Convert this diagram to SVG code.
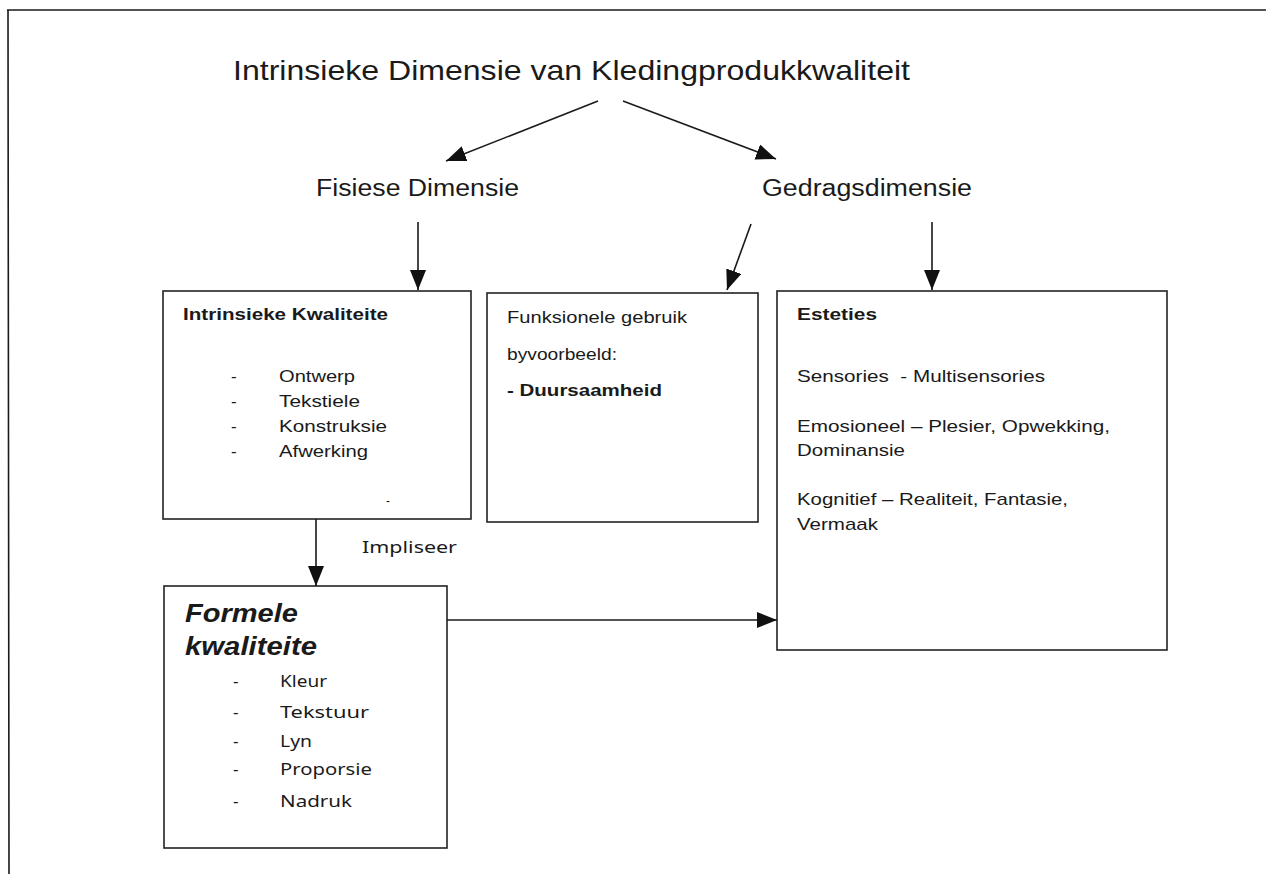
<svg xmlns="http://www.w3.org/2000/svg" width="1266" height="874" viewBox="0 0 1266 874">
<style>
.t{font-family:"Liberation Sans",Arial,sans-serif;fill:#1a1a1a}
.s{font-size:17px}
.b{font-weight:bold}
.c{font-family:"Comic Sans MS","Noto Sans",sans-serif;fill:#1a1a1a;font-size:17px}
.box{fill:#fff;stroke:#222;stroke-width:1.6}
.ln{stroke:#1a1a1a;stroke-width:1.6;fill:none}
</style>
<defs>
<marker id="ah" markerUnits="userSpaceOnUse" markerWidth="22" markerHeight="18" refX="20" refY="8" orient="auto">
<path d="M0,0 L20,8 L0,16 z" fill="#111"/>
</marker>
</defs>
<rect width="1266" height="874" fill="#fff"/>
<g id="frame">
<path class="ln" d="M7,10 L1266,10 M8,10 L9,874"/>
</g>
<g id="title">
<text class="t" x="233" y="80" font-size="28" textLength="677" lengthAdjust="spacingAndGlyphs">Intrinsieke Dimensie van Kledingprodukkwaliteit</text>
</g>
<g id="fisiese">
<text class="t" x="316" y="196" font-size="23" textLength="203" lengthAdjust="spacingAndGlyphs">Fisiese Dimensie</text>
</g>
<g id="gedrag">
<text class="t" x="762" y="196" font-size="23" textLength="210" lengthAdjust="spacingAndGlyphs">Gedragsdimensie</text>
</g>
<g id="intrinsieke">
<rect class="box" x="163" y="291" width="308" height="228"/>
<text class="t s b" x="183" y="320" textLength="205" lengthAdjust="spacingAndGlyphs">Intrinsieke Kwaliteite</text>
<text class="t s" x="231" y="382">-</text>
<text class="t s" x="231" y="407">-</text>
<text class="t s" x="231" y="432">-</text>
<text class="t s" x="231" y="457">-</text>
<text class="t s" x="279" y="382" textLength="76" lengthAdjust="spacingAndGlyphs">Ontwerp</text>
<text class="t s" x="279" y="407" textLength="81" lengthAdjust="spacingAndGlyphs">Tekstiele</text>
<text class="t s" x="279" y="432" textLength="108" lengthAdjust="spacingAndGlyphs">Konstruksie</text>
<text class="t s" x="279" y="457" textLength="89" lengthAdjust="spacingAndGlyphs">Afwerking</text>
<text class="t" x="386" y="505" font-size="12">-</text>
</g>
<g id="funksioneel">
<rect class="box" x="487" y="293" width="271" height="229"/>
<text class="t s" x="507" y="323" textLength="180" lengthAdjust="spacingAndGlyphs">Funksionele gebruik</text>
<text class="t s" x="507" y="360" textLength="110" lengthAdjust="spacingAndGlyphs">byvoorbeeld:</text>
<text class="t s b" x="507" y="396" textLength="155" lengthAdjust="spacingAndGlyphs">- Duursaamheid</text>
</g>
<g id="esteties">
<rect class="box" x="777" y="291" width="390" height="359"/>
<text class="t s b" x="797" y="320" textLength="80" lengthAdjust="spacingAndGlyphs">Esteties</text>
<text class="t s" x="797" y="382" textLength="248" lengthAdjust="spacingAndGlyphs" xml:space="preserve">Sensories  - Multisensories</text>
<text class="t s" x="797" y="432" textLength="313" lengthAdjust="spacingAndGlyphs">Emosioneel – Plesier, Opwekking,</text>
<text class="t s" x="797" y="456" textLength="108" lengthAdjust="spacingAndGlyphs">Dominansie</text>
<text class="t s" x="797" y="505" textLength="271" lengthAdjust="spacingAndGlyphs">Kognitief – Realiteit, Fantasie,</text>
<text class="t s" x="797" y="530" textLength="81" lengthAdjust="spacingAndGlyphs">Vermaak</text>
</g>
<g id="formele">
<rect class="box" x="164" y="586" width="283" height="262"/>
<text class="t b" x="185" y="622" font-size="25" font-style="italic" textLength="113" lengthAdjust="spacingAndGlyphs">Formele</text>
<text class="t b" x="185" y="655" font-size="25" font-style="italic" textLength="132" lengthAdjust="spacingAndGlyphs">kwaliteite</text>
<text class="c" x="233" y="687">-</text>
<text class="c" x="233" y="718">-</text>
<text class="c" x="233" y="747">-</text>
<text class="c" x="233" y="775">-</text>
<text class="c" x="233" y="807">-</text>
<text class="c" x="280" y="687" textLength="47" lengthAdjust="spacingAndGlyphs">Kleur</text>
<text class="c" x="280" y="718" textLength="89" lengthAdjust="spacingAndGlyphs">Tekstuur</text>
<text class="c" x="280" y="747" textLength="32" lengthAdjust="spacingAndGlyphs">Lyn</text>
<text class="c" x="280" y="775" textLength="92" lengthAdjust="spacingAndGlyphs">Proporsie</text>
<text class="c" x="280" y="807" textLength="72" lengthAdjust="spacingAndGlyphs">Nadruk</text>
</g>
<g id="connectors">
<line class="ln" x1="598" y1="101" x2="446" y2="161" marker-end="url(#ah)"/>
<line class="ln" x1="623" y1="101" x2="776" y2="159" marker-end="url(#ah)"/>
<line class="ln" x1="418" y1="222" x2="418" y2="290" marker-end="url(#ah)"/>
<line class="ln" x1="751" y1="224" x2="727" y2="290" marker-end="url(#ah)"/>
<line class="ln" x1="932" y1="222" x2="932" y2="290" marker-end="url(#ah)"/>
<line class="ln" x1="316" y1="519" x2="316" y2="586" marker-end="url(#ah)"/>
<line class="ln" x1="447" y1="620" x2="777" y2="620" marker-end="url(#ah)"/>
<text class="c" x="362" y="553" textLength="95" lengthAdjust="spacingAndGlyphs">Impliseer</text>
</g>
</svg>
